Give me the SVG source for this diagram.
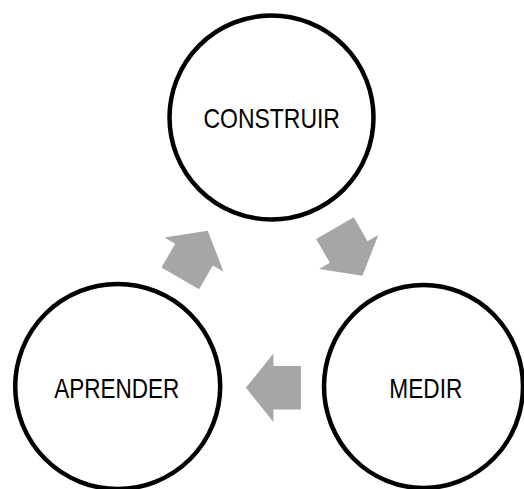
<svg xmlns="http://www.w3.org/2000/svg" width="524" height="489" viewBox="0 0 524 489">
  <defs>
    <style>
      .node { fill: #FFFFFF; stroke: #000000; stroke-width: 4.5; }
      .label { font-family: "Liberation Sans", Arial, sans-serif; font-size: 28px; fill: #000000; text-anchor: middle; }
      .arrow { fill: #A6A6A6; stroke: none; }
    </style>
    <polygon id="blockArrow" points="-27.5,-21.7 0,-21.7 0,-34.2 27.5,0 0,34.2 0,21.7 -27.5,21.7"/>
  </defs>
  <rect x="0" y="0" width="524" height="489" fill="#FFFFFF"/>
  <g id="connectors">
    <use href="#blockArrow" class="arrow" transform="translate(348.7,252) rotate(60)"/>
    <use href="#blockArrow" class="arrow" transform="translate(273.4,387.7) rotate(180)"/>
    <use href="#blockArrow" class="arrow" transform="translate(194,254.6) rotate(-60)"/>
  </g>
  <g id="node-construir">
    <circle class="node" cx="271.5" cy="117.5" r="102"/>
    <text class="label" x="271.7" y="127.5" textLength="136.5" lengthAdjust="spacingAndGlyphs">CONSTRUIR</text>
  </g>
  <g id="node-medir">
    <ellipse class="node" cx="423.5" cy="386.5" rx="99.5" ry="101.5"/>
    <text class="label" x="425.8" y="397.5" textLength="73" lengthAdjust="spacingAndGlyphs">MEDIR</text>
  </g>
  <g id="node-aprender">
    <circle class="node" cx="117.7" cy="386.5" r="102.5"/>
    <text class="label" x="116.7" y="397.5" textLength="125" lengthAdjust="spacingAndGlyphs">APRENDER</text>
  </g>
</svg>
